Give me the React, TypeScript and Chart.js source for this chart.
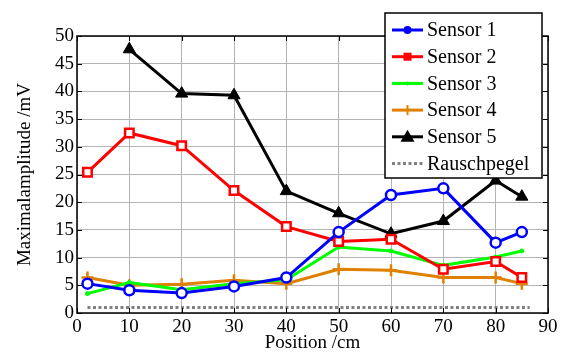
import React, { useEffect, useRef } from "react";
import { Chart, registerables } from "chart.js";

Chart.register(...registerables);

const positions = [2, 10, 20, 30, 40, 50, 60, 70, 80, 85];
const sensor1 = [5.3, 4.1, 3.6, 4.8, 6.4, 14.6, 21.3, 22.5, 12.7, 14.6];
const sensor2 = [25.4, 32.5, 30.2, 22.1, 15.6, 12.9, 13.3, 7.9, 9.3, 6.4];
const sensor3 = [3.5, 5.5, 4.2, 5.3, 6.0, 11.9, 11.2, 8.6, 10.1, 11.2];
const sensor4 = [6.4, 5.0, 5.2, 5.9, 5.3, 7.9, 7.7, 6.4, 6.4, 5.3];
const sensor5Positions = [10, 20, 30, 40, 50, 60, 70, 80, 85];
const sensor5 = [47.6, 39.6, 39.3, 22.0, 18.0, 14.3, 16.6, 23.9, 21.0];
const noisePositions = [2, 86.5];
const noiseLevel = [1, 1];
const seriesLabels = ["Sensor 1", "Sensor 2", "Sensor 3", "Sensor 4", "Sensor 5", "Rauschpegel"];
const xTicks = [0, 10, 20, 30, 40, 50, 60, 70, 80, 90];
const yTicks = [0, 5, 10, 15, 20, 25, 30, 35, 40, 45, 50];

const FONT = "'Liberation Serif', 'Times New Roman', serif";

function pts(xs: number[], ys: number[]) {
  return xs.map((x, i) => ({ x, y: ys[i] }));
}

const boxTicksPlugin = {
  id: "boxTicks",
  afterDatasetsDraw(chart: any) {
    const { ctx, chartArea: a, scales } = chart;
    ctx.save();
    ctx.strokeStyle = "#000";
    ctx.lineWidth = 1;
    ctx.beginPath();
    const L = 5;
    xTicks.forEach((v) => {
      const px = Math.round(scales.x.getPixelForValue(v)) + 0.5;
      ctx.moveTo(px, a.bottom);
      ctx.lineTo(px, a.bottom - L);
      ctx.moveTo(px, a.top);
      ctx.lineTo(px, a.top + L);
    });
    yTicks.forEach((v) => {
      const py = Math.round(scales.y.getPixelForValue(v)) + 0.5;
      ctx.moveTo(a.left, py);
      ctx.lineTo(a.left + L, py);
      ctx.moveTo(a.right, py);
      ctx.lineTo(a.right - L, py);
    });
    ctx.stroke();
    ctx.lineWidth = 1.5;
    ctx.strokeRect(a.left, a.top, a.right - a.left, a.bottom - a.top);
    ctx.restore();
  },
};

const legendPlugin = {
  id: "boxLegend",
  afterDraw(chart: any) {
    const { ctx } = chart;
    const x0 = 385, y0 = 13, w = 157, h = 165;
    ctx.save();
    ctx.fillStyle = "#fff";
    ctx.fillRect(x0, y0, w, h);
    ctx.strokeStyle = "#000";
    ctx.lineWidth = 1.5;
    ctx.strokeRect(x0, y0, w, h);
    ctx.font = `20px ${FONT}`;
    ctx.textBaseline = "middle";
    chart.data.datasets.forEach((ds: any, i: number) => {
      const cy = y0 + 17 + i * 26.7;
      const lx1 = 392, lx2 = 423, mx = 407.5;
      ctx.strokeStyle = ds.borderColor;
      ctx.lineWidth = ds.borderWidth;
      ctx.setLineDash(ds.borderDash || []);
      ctx.beginPath();
      ctx.moveTo(lx1, cy);
      ctx.lineTo(lx2, cy);
      ctx.stroke();
      ctx.setLineDash([]);
      const st = ds.pointStyle;
      const r = ds.pointRadius;
      if (r > 0) {
        ctx.fillStyle = ds.borderColor;
        ctx.strokeStyle = ds.borderColor;
        ctx.lineWidth = 2;
        ctx.beginPath();
        if (st === "circle" && i === 0) {
          ctx.arc(mx, cy, 4, 0, Math.PI * 2);
          ctx.fill();
        } else if (st === "rect") {
          ctx.rect(mx - 4, cy - 4, 8, 8);
          ctx.fill();
        } else if (st === "triangle") {
          ctx.moveTo(mx, cy - 7);
          ctx.lineTo(mx + 7, cy + 5);
          ctx.lineTo(mx - 7, cy + 5);
          ctx.closePath();
          ctx.fill();
        } else if (st === "cross") {
          ctx.moveTo(mx, cy - 5);
          ctx.lineTo(mx, cy + 5);
          ctx.stroke();
        } else {
          ctx.arc(mx, cy, 2, 0, Math.PI * 2);
          ctx.fill();
        }
      }
      ctx.fillStyle = "#000";
      ctx.fillText(ds.label, 427, cy + 1);
    });
    ctx.restore();
  },
};

export default function App() {
  const ref = useRef<HTMLCanvasElement | null>(null);
  useEffect(() => {
    if (!ref.current) return;
    const base = { showLine: true, fill: false, borderWidth: 3, tension: 0 };
    const chart = new Chart(ref.current, {
      type: "scatter",
      data: {
        datasets: [
          { ...base, label: seriesLabels[0], data: pts(positions, sensor1), borderColor: "#0000ff", backgroundColor: "#ffffff", pointStyle: "circle", pointRadius: 5, pointBorderWidth: 2.5 },
          { ...base, label: seriesLabels[1], data: pts(positions, sensor2), borderColor: "#ff0000", backgroundColor: "#ffffff", pointStyle: "rect", pointRadius: 6, pointBorderWidth: 2.5 },
          { ...base, label: seriesLabels[2], data: pts(positions, sensor3), borderColor: "#00ff00", backgroundColor: "#00ff00", pointStyle: "circle", pointRadius: 2, pointBorderWidth: 1 },
          { ...base, label: seriesLabels[3], data: pts(positions, sensor4), borderColor: "#e08000", backgroundColor: "#e08000", pointStyle: "cross", pointRadius: 6, pointBorderWidth: 2.5 },
          { ...base, label: seriesLabels[4], data: pts(sensor5Positions, sensor5), borderColor: "#000000", backgroundColor: "#000000", pointStyle: "triangle", pointRadius: 7, pointBorderWidth: 1 },
          { ...base, label: seriesLabels[5], data: pts(noisePositions, noiseLevel), borderColor: "#808080", backgroundColor: "#808080", borderDash: [3, 2.5], pointRadius: 0, pointStyle: "circle" },
        ],
      } as any,
      options: {
        animation: false,
        responsive: false,
        maintainAspectRatio: false,
        layout: { padding: { left: 0, right: 19, top: 36, bottom: 0 } },
        plugins: { legend: { display: false }, tooltip: { enabled: false } },
        scales: {
          x: {
            type: "linear",
            min: 0,
            max: 90,
            afterBuildTicks(s: any) { s.ticks = xTicks.map((v) => ({ value: v })); },
            afterFit(s: any) { s.height = 45; },
            grid: { color: "#b4b4b4", lineWidth: 1, drawTicks: false },
            border: { display: false },
            ticks: { color: "#000", font: { family: FONT, size: 19 }, padding: 3, maxRotation: 0 },
            title: { display: true, text: "Position /cm", color: "#000", font: { family: FONT, size: 19 }, padding: { top: 0, bottom: 4 } },
          },
          y: {
            type: "linear",
            min: 0,
            max: 50,
            afterBuildTicks(s: any) { s.ticks = yTicks.map((v) => ({ value: v })); },
            afterFit(s: any) { s.width = 77; },
            grid: { color: "#b4b4b4", lineWidth: 1, drawTicks: false },
            border: { display: false },
            ticks: { color: "#000", font: { family: FONT, size: 19 }, padding: 3 },
            title: { display: true, text: "Maximalamplitude /mV", color: "#000", font: { family: FONT, size: 19 }, padding: { top: 14, bottom: 0 } },
          },
        },
      } as any,
      plugins: [boxTicksPlugin, legendPlugin],
    });
    return () => chart.destroy();
  }, []);
  return (
    <div style={{ position: "fixed", left: 0, top: 0, width: 567, height: 358, background: "#fff" }}>
      <canvas ref={ref} width={567} height={358} style={{ width: 567, height: 358 }} />
    </div>
  );
}
